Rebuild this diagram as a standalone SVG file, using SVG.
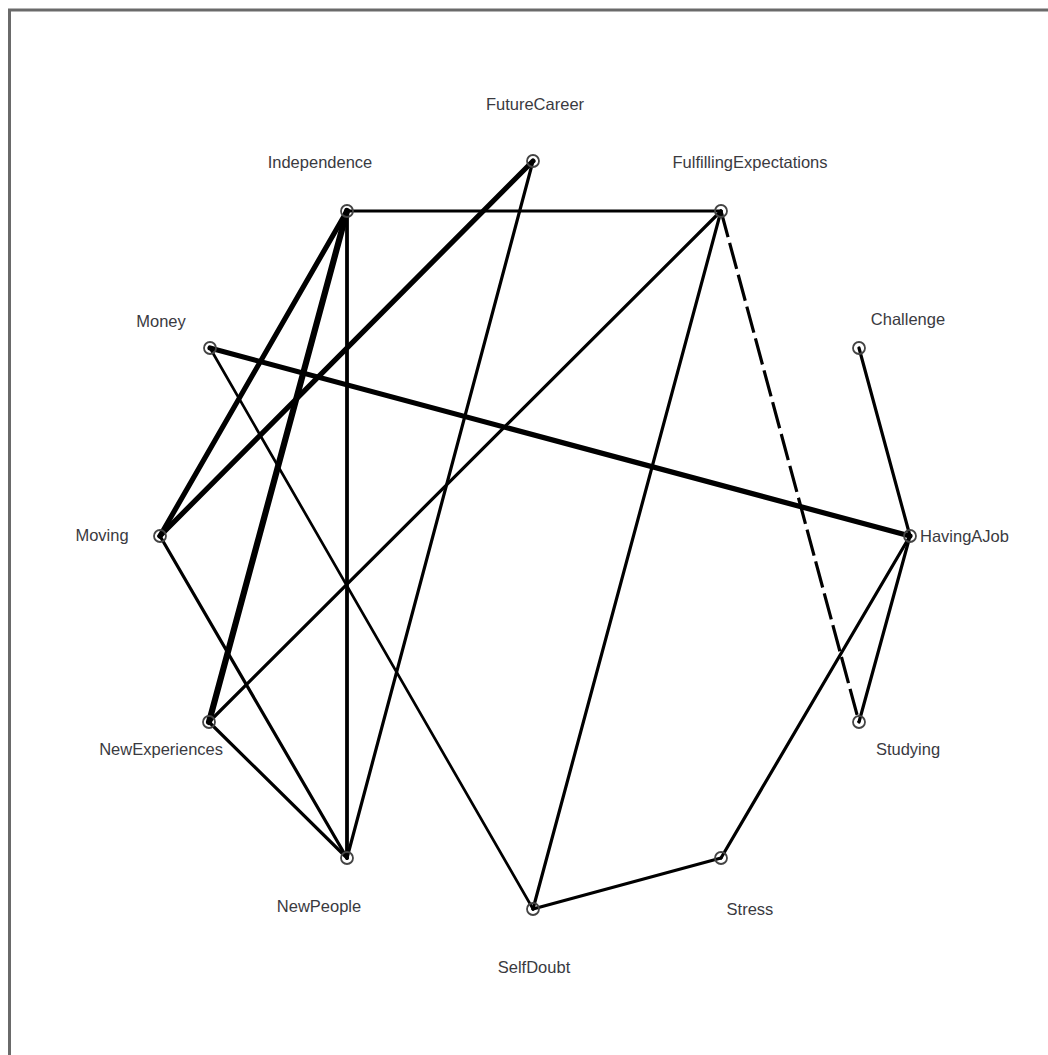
<svg xmlns="http://www.w3.org/2000/svg" width="1048" height="1055" viewBox="0 0 1048 1055">
<style>
.frame{fill:none;stroke:#6a6a6a;stroke-width:3}
.e{stroke:#000;stroke-linecap:round;fill:none}
.w3{stroke-width:3.2}
.w25{stroke-width:2.7}
.w35{stroke-width:3.8}
.w5{stroke-width:5.2}
.w6{stroke-width:6.2}
.dash{stroke-width:3.2;stroke-dasharray:27 6;stroke-linecap:butt}
.n circle{fill:none;stroke:#444;stroke-width:1.8}
.n text{font-family:"Liberation Sans",Arial,Helvetica,sans-serif;font-size:16.5px;fill:#3a3a3f}
</style>
<rect width="1048" height="1055" fill="#fff"/>
<path class="frame" d="M9.5,1055 V10 H1048"/>
<g id="connectors">
<line class="e w3" x1="347" y1="211" x2="721" y2="211"/>
<line class="e w5" x1="347" y1="211" x2="160" y2="536"/>
<line class="e w6" x1="347" y1="211" x2="209" y2="722"/>
<line class="e w35" x1="347" y1="211" x2="347" y2="858"/>
<line class="e w5" x1="533" y1="161" x2="160" y2="536"/>
<line class="e w3" x1="533" y1="161" x2="347" y2="858"/>
<line class="e w3" x1="721" y1="211" x2="209" y2="722"/>
<line class="e w3" x1="721" y1="211" x2="533" y2="909"/>
<line class="e dash" x1="721" y1="211" x2="859" y2="722"/>
<line class="e w5" x1="210" y1="348" x2="910" y2="536"/>
<line class="e w25" x1="210" y1="348" x2="533" y2="909"/>
<line class="e w3" x1="859" y1="348" x2="910" y2="536"/>
<line class="e w3" x1="160" y1="536" x2="347" y2="858"/>
<line class="e w3" x1="209" y1="722" x2="347" y2="858"/>
<line class="e w3" x1="910" y1="536" x2="859" y2="722"/>
<line class="e w3" x1="910" y1="536" x2="721" y2="858"/>
<line class="e w3" x1="721" y1="858" x2="533" y2="909"/>
</g>
<g id="FutureCareer" class="n"><circle cx="533" cy="161" r="6"/><text x="535" y="110" text-anchor="middle">FutureCareer</text></g>
<g id="Independence" class="n"><circle cx="347" cy="211" r="6"/><text x="320" y="168" text-anchor="middle">Independence</text></g>
<g id="FulfillingExpectations" class="n"><circle cx="721" cy="211" r="6"/><text x="750" y="168" text-anchor="middle">FulfillingExpectations</text></g>
<g id="Money" class="n"><circle cx="210" cy="348" r="6"/><text x="161" y="327" text-anchor="middle">Money</text></g>
<g id="Challenge" class="n"><circle cx="859" cy="348" r="6"/><text x="908" y="325" text-anchor="middle">Challenge</text></g>
<g id="Moving" class="n"><circle cx="160" cy="536" r="6"/><text x="102" y="541" text-anchor="middle">Moving</text></g>
<g id="HavingAJob" class="n"><circle cx="910" cy="536" r="6"/><text x="920" y="542" text-anchor="start">HavingAJob</text></g>
<g id="NewExperiences" class="n"><circle cx="209" cy="722" r="6"/><text x="223" y="755" text-anchor="end">NewExperiences</text></g>
<g id="Studying" class="n"><circle cx="859" cy="722" r="6"/><text x="908" y="755" text-anchor="middle">Studying</text></g>
<g id="NewPeople" class="n"><circle cx="347" cy="858" r="6"/><text x="319" y="912" text-anchor="middle">NewPeople</text></g>
<g id="Stress" class="n"><circle cx="721" cy="858" r="6"/><text x="750" y="915" text-anchor="middle">Stress</text></g>
<g id="SelfDoubt" class="n"><circle cx="533" cy="909" r="6"/><text x="534" y="973" text-anchor="middle">SelfDoubt</text></g>
</svg>
